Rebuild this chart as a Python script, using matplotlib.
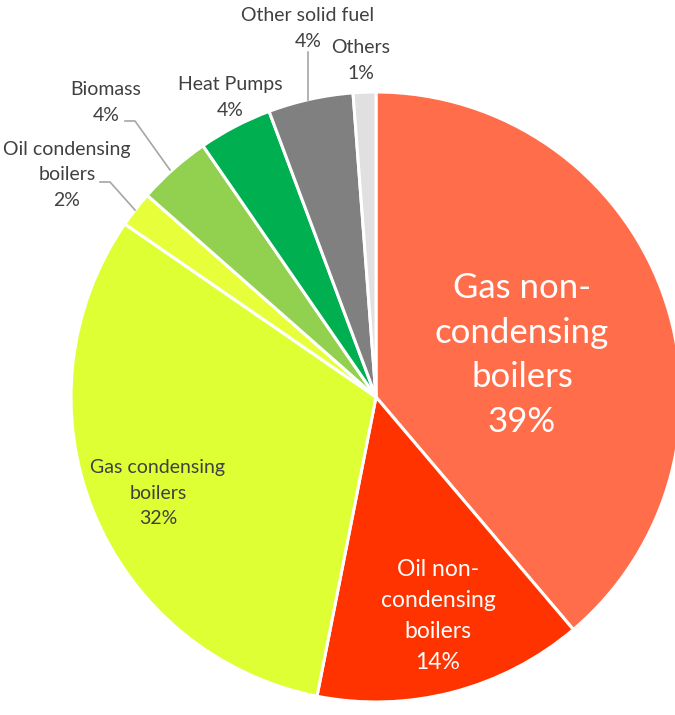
import matplotlib
matplotlib.use("Agg")
import matplotlib.pyplot as plt

plt.rcParams['font.family'] = ['Lato', 'DejaVu Sans']

# Heating technology shares (%), clockwise from 12 o'clock
categories = [
    "Gas non-condensing boilers", "Oil non-condensing boilers", "Gas condensing boilers",
    "Oil condensing boilers", "Biomass", "Heat Pumps", "Other solid fuel", "Others"
]
shares = [38.8, 14.3, 31.5, 1.9, 3.9, 3.9, 4.5, 1.2]
slice_colors = ["#FF6D4A", "#FF3300", "#DDFF33", "#E6FF3A", "#92D050", "#00B050", "#808080", "#E0E0E0"]

# label text lines (name split as in the chart)
label_lines = [
    ["Gas non-", "condensing", "boilers"],
    ["Oil non-", "condensing", "boilers"],
    ["Gas condensing", "boilers"],
    ["Oil condensing", "boilers"],
    ["Biomass"],
    ["Heat Pumps"],
    ["Other solid fuel"],
    ["Others"],
]

W, H = 675, 715
fig = plt.figure(figsize=(W / 100, H / 100), dpi=100)
ax = fig.add_axes([0, 0, 1, 1])

cx, cy, r = 376, H - 397, 305
ax.pie(shares, colors=slice_colors, startangle=90, counterclock=False,
       center=(cx, cy), radius=r, frame=True,
       wedgeprops=dict(edgecolor="white", linewidth=2.2))
ax.set_xlim(0, W)
ax.set_ylim(0, H)
ax.set_aspect('equal')
ax.axis('off')

# label placement (pixel coords from top-left), font size, colour, line pitch in px
label_pos = [(522, 352), (438, 614), (158, 492), (67, 173), (106, 101), (230, 96), (308, 27), (361, 59)]
label_size = [25, 16.5, 14, 14, 14, 14, 14, 14]
label_color = ["white", "white", "#404040", "#404040", "#404040", "#404040", "#404040", "#404040"]
label_pitch = [44.5, 31.3, 25.5, 25.5, 26.5, 26.5, 26, 26]

for lines, share, (x, y), fs, col, pitch in zip(label_lines, shares, label_pos, label_size, label_color, label_pitch):
    rows = lines + [f"{round(share):.0f}%"]
    n = len(rows)
    for i, row in enumerate(rows):
        yy = y + (i - (n - 1) / 2) * pitch
        ax.text(x, H - yy, row, ha="center", va="center_baseline", fontsize=fs, color=col)

# leader lines for the small outside labels
leaders = [
    [(100, 182), (110, 182), (135, 210)],
    [(125, 121), (135, 121), (170, 170)],
    [(308, 52), (308, 100)],
]
for pts in leaders:
    xs = [p[0] for p in pts]
    ys = [H - p[1] for p in pts]
    ax.plot(xs, ys, color="#A6A6A6", linewidth=1.2)

fig.savefig("out.png", dpi=100)
